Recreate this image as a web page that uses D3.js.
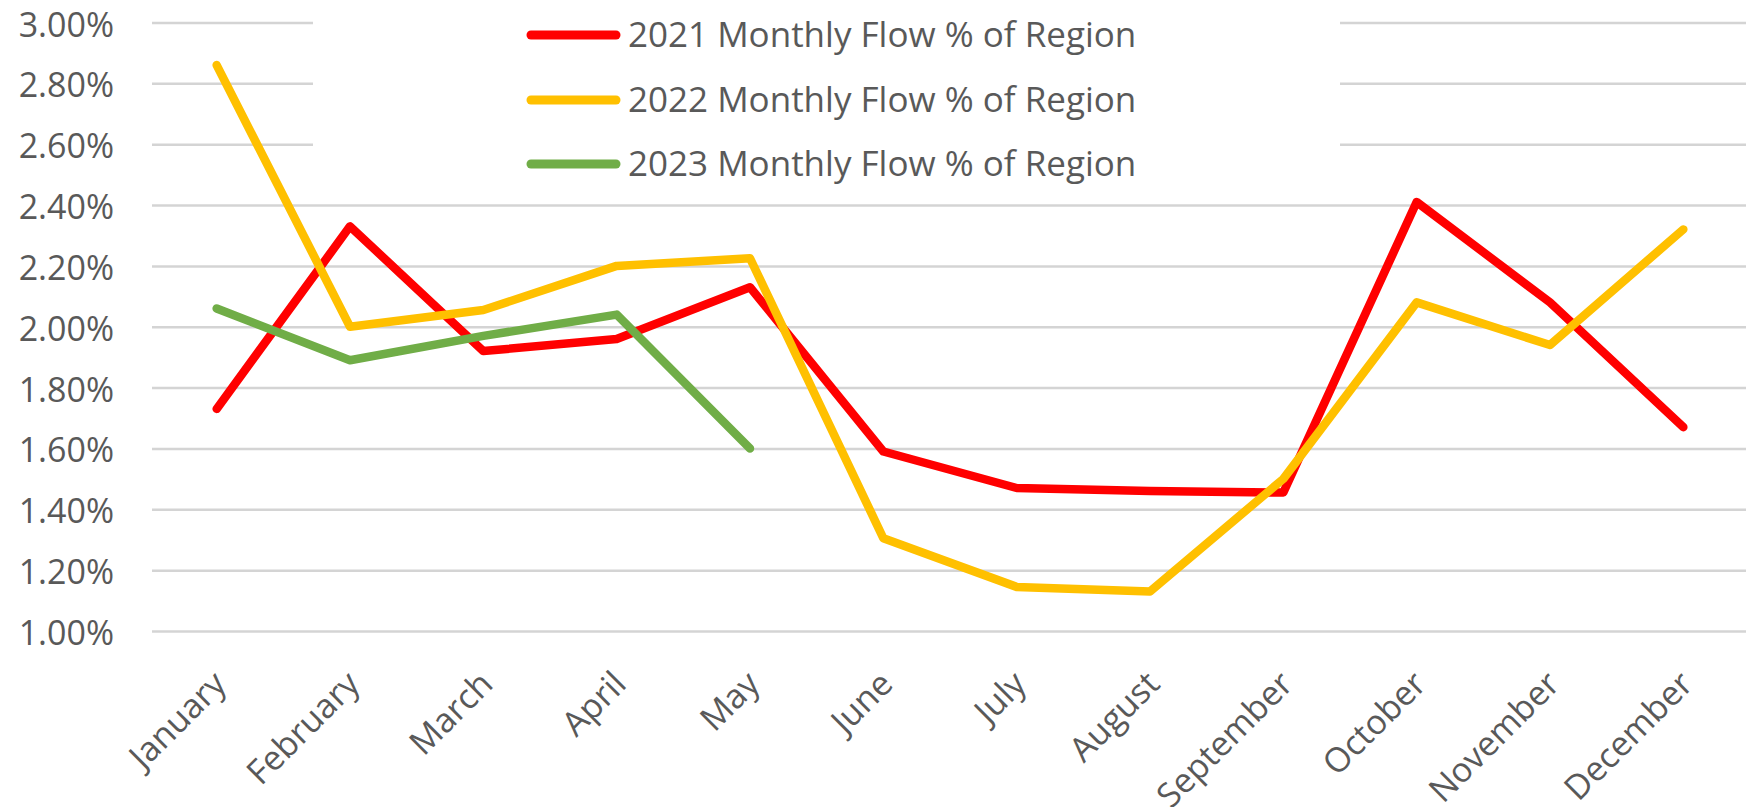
<!DOCTYPE html>
<meta charset="utf-8">
<style>
    body {
        margin: 0;
        background: #fff;
    }

    text {
        font-family: "Open Sans", "Liberation Sans", sans-serif;
        fill: #595959;
    }
</style>

<body>
    <svg width="1746" height="807"></svg>
    <script src="https://d3js.org/d3.v7.min.js"></script>
    <script>
        // values (share of region, in %)
        var months = ["January", "February", "March", "April", "May", "June",
            "July", "August", "September", "October", "November", "December"];
        var yTicks = [1.0, 1.2, 1.4, 1.6, 1.8, 2.0, 2.2, 2.4, 2.6, 2.8, 3.0];

        var flow2021 = [1.73, 2.33, 1.92, 1.96, 2.13, 1.59, 1.47, 1.46, 1.455, 2.41, 2.08, 1.67];
        var flow2022 = [2.86, 2.00, 2.055, 2.20, 2.225, 1.305, 1.145, 1.13, 1.50, 2.08, 1.94, 2.32];
        var flow2023 = [2.06, 1.89, 1.97, 2.04, 1.60];

        var seriesNames = ["2021 Monthly Flow % of Region", "2022 Monthly Flow % of Region", "2023 Monthly Flow % of Region"];
        var seriesColors = ["#ff0000", "#ffc000", "#70ad47"];

        var svg = d3.select("svg"),
            width = +svg.attr("width"),
            height = +svg.attr("height");

        var plotLeft = 152,
            plotRight = width;

        var x = d3.scalePoint()
            .domain(months)
            .range([150, 1750])
            .padding(0.5);

        var y = d3.scaleLinear()
            .domain([1.0, 3.0])
            .range([631, 22.5]);

        // gridlines
        var grid = svg.append("g")
            .attr("transform", "translate(" + plotLeft + ",0)")
            .call(d3.axisLeft(y).tickValues(yTicks).tickSize(-(plotRight - plotLeft)).tickFormat(""));
        grid.select(".domain").remove();
        grid.selectAll("line")
            .attr("stroke", "#d4d4d4")
            .attr("stroke-width", 2.5);

        // y labels
        var yAxis = svg.append("g")
            .attr("transform", "translate(114,0)")
            .call(d3.axisLeft(y).tickValues(yTicks).tickSize(0).tickPadding(0)
                .tickFormat(function(d) { return d.toFixed(2) + "%"; }));
        yAxis.select(".domain").remove();
        yAxis.selectAll("text")
            .attr("x", 0)
            .attr("dy", null)
            .attr("y", 13.5)
            .attr("font-size", 34)
            .attr("fill", "#595959")
            .style("font-family", "'Open Sans', sans-serif");

        // x labels, rotated
        var xAxis = svg.append("g")
            .attr("transform", "translate(0,631)")
            .call(d3.axisBottom(x).tickSize(0));
        xAxis.select(".domain").remove();
        xAxis.selectAll(".tick text")
            .attr("y", 0)
            .attr("dy", null)
            .attr("text-anchor", "end")
            .attr("transform", "translate(11,55) rotate(-45)")
            .attr("font-size", 34)
            .attr("fill", "#595959")
            .style("font-family", "'Open Sans', sans-serif");

        // lines
        var line = d3.line()
            .x(function(d, i) { return x(months[i]); })
            .y(function(d) { return y(d); });

        [flow2021, flow2022, flow2023].forEach(function(s, i) {
            svg.append("path")
                .datum(s)
                .attr("d", line)
                .attr("fill", "none")
                .attr("stroke", seriesColors[i])
                .attr("stroke-width", 8.5)
                .attr("stroke-linecap", "round")
                .attr("stroke-linejoin", "round");
        });

        // legend (white box over the top gridlines)
        var legend = svg.append("g");
        legend.append("rect")
            .attr("x", 313)
            .attr("y", 0)
            .attr("width", 1340 - 313)
            .attr("height", 186)
            .attr("fill", "#fff");

        var legendY = [35, 100, 164];
        seriesNames.forEach(function(name, i) {
            legend.append("line")
                .attr("x1", 531)
                .attr("x2", 616)
                .attr("y1", legendY[i])
                .attr("y2", legendY[i])
                .attr("stroke", seriesColors[i])
                .attr("stroke-width", 9)
                .attr("stroke-linecap", "round");
            legend.append("text")
                .attr("x", 628)
                .attr("y", legendY[i] + 12)
                .attr("font-size", 35)
                .text(name);
        });
    </script>
</body>
